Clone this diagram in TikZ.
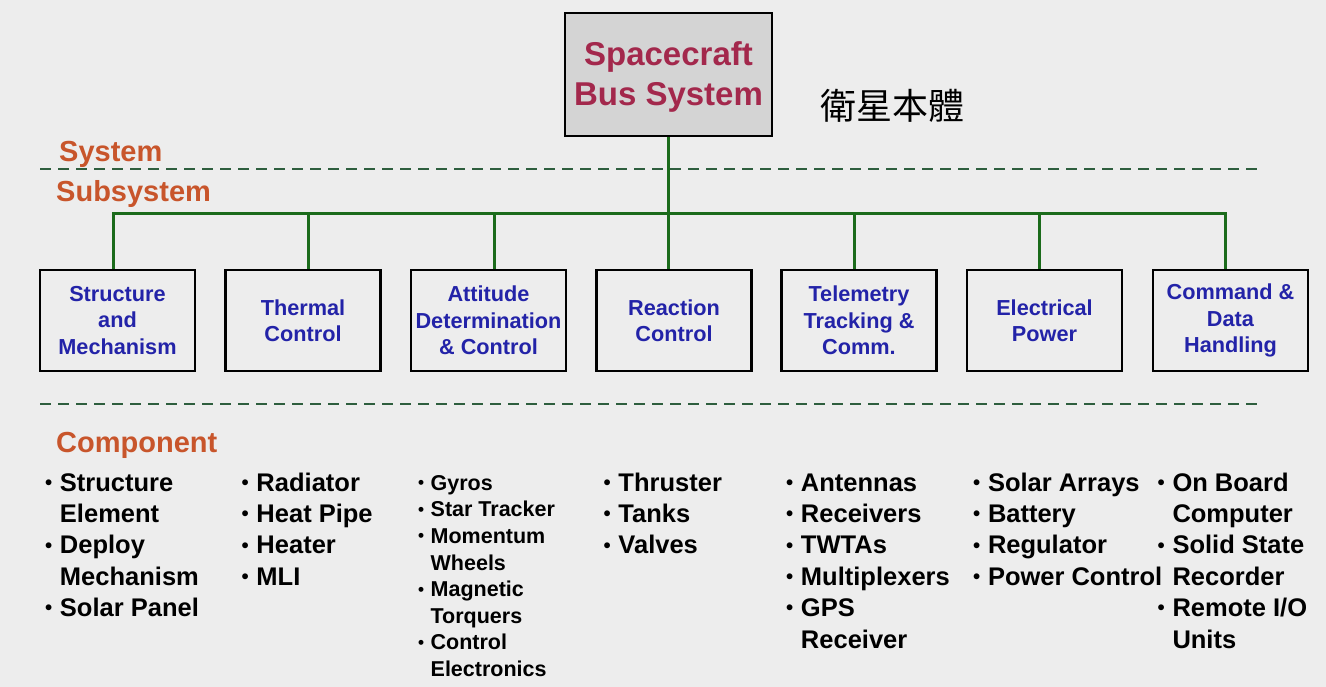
\documentclass[tikz,border=0pt]{standalone}
\usepackage{graphicx}
\usepackage{fontspec}
\setmainfont{Liberation Sans}
\newfontfamily\cjk{Noto Sans CJK TC}
\usetikzlibrary{positioning}
\definecolor{busBg}{HTML}{EDEDED}
\definecolor{busTitle}{HTML}{A3284C}
\definecolor{busLevel}{HTML}{C8552B}
\definecolor{busBlue}{HTML}{2323A8}
\definecolor{busGreen}{HTML}{1B6B1B}
\definecolor{busDash}{HTML}{2E5E3E}
\definecolor{busFill}{HTML}{D4D4D4}
\newcommand{\itm}[1]{\strut\makebox[0.58em][l]{\raisebox{0.07em}{\scalebox{0.8}{\textbullet}}}#1}
\newcommand{\cnt}[1]{\strut\hspace*{0.58em}#1}
\tikzset{
  every picture/.style={font=\bfseries},
  bus top/.style={draw=black, line width=2.2pt, fill=busFill, align=center,
    minimum width=207pt, minimum height=123pt, text=busTitle, text depth=2pt,
    font=\bfseries\fontsize{33}{40}\selectfont},
  bus sub/.style={draw=black, line width=2.2pt, align=center, inner sep=1pt,
    minimum width=155pt, minimum height=101pt, text=busBlue,
    font=\bfseries\fontsize{21.7}{26.5}\selectfont},
  bus level/.style={anchor=base west, text=busLevel, inner sep=0pt,
    font=\bfseries\fontsize{29}{34}\selectfont},
  bus list/.style={anchor=north west, align=left, inner sep=0pt,
    font=\bfseries\fontsize{25.5}{31.4}\selectfont},
  bus list small/.style={bus list, font=\bfseries\fontsize{21.5}{26.6}\selectfont},
  bus link/.style={draw=busGreen, line width=3pt},
  bus sep/.style={draw=busDash, line width=2.4pt, dash pattern=on 11pt off 7pt}
}
\begin{document}
\begin{tikzpicture}[x=1pt,y=-1pt]
  \useasboundingbox (0,0) rectangle (1326,687);
  \fill[busBg] (0,0) rectangle (1326,687);

  % system level
  \node[bus top] (top) at (668.5,74.5) {Spacecraft\\Bus System};
  \node[font=\cjk\fontsize{36}{40}\selectfont, inner sep=0pt] (cjk) at (892.5,105.5) {衛星本體};
  \node[bus level] (lsys) at (59,162) {System};
  \draw[bus sep] (40,169) -- (1262,169);
  \node[bus level] (lsub) at (56,202) {Subsystem};

  % subsystems
  \coordinate (busy) at (0,214);
  \foreach \i/\bx/\dx/\txt in {
      1/117.5/-4.5/{Structure\\and\\Mechanism},
      2/303/5.3/{Thermal\\Control},
      3/488.5/6/{Attitude\\Determination\\\& Control},
      4/674/-5.5/{Reaction\\Control},
      5/859/-4.5/{Telemetry\\Tracking \&\\Comm.},
      6/1044.5/-4.8/{Electrical\\Power},
      7/1230.5/-5/{Command \&\\Data\\Handling}} {
    \node[bus sub] (sub\i) at (\bx,320.5) {\txt};
    \coordinate (drop\i) at ([xshift=\dx pt]sub\i.north);
  }
  \draw[bus link] (top.south) -- (top.south |- busy);
  \draw[bus link] (drop1) |- (drop7 |- busy) -- (drop7);
  \foreach \i in {2,...,6}
    \draw[bus link] (drop\i) -- (drop\i |- busy);

  % components
  \draw[bus sep] (40,404) -- (1262,404);
  \node[bus level] (lcomp) at (56,452) {Component};
  \node[bus list] (cstr) at (45,469)
    {\itm{Structure}\\\cnt{Element}\\\itm{Deploy}\\\cnt{Mechanism}\\\itm{Solar Panel}};
  \node[bus list] (cthm) at (241.5,469)
    {\itm{Radiator}\\\itm{Heat Pipe}\\\itm{Heater}\\\itm{MLI}};
  \node[bus list small] (cadc) at (418,471.4)
    {\itm{Gyros}\\\itm{Star Tracker}\\\itm{Momentum}\\\cnt{Wheels}\\\itm{Magnetic}\\\cnt{Torquers}\\\itm{Control}\\\cnt{Electronics}};
  \node[bus list] (crcs) at (603.5,469)
    {\itm{Thruster}\\\itm{Tanks}\\\itm{Valves}};
  \node[bus list] (cttc) at (786,469)
    {\itm{Antennas}\\\itm{Receivers}\\\itm{TWTAs}\\\itm{Multiplexers}\\\itm{GPS}\\\cnt{Receiver}};
  \node[bus list] (ceps) at (973,469)
    {\itm{Solar Arrays}\\\itm{Battery}\\\itm{Regulator}\\\itm{Power Control}};
  \node[bus list] (ccdh) at (1157.5,469)
    {\itm{On Board}\\\cnt{Computer}\\\itm{Solid State}\\\cnt{Recorder}\\\itm{Remote I/O}\\\cnt{Units}};
\end{tikzpicture}
\end{document}
